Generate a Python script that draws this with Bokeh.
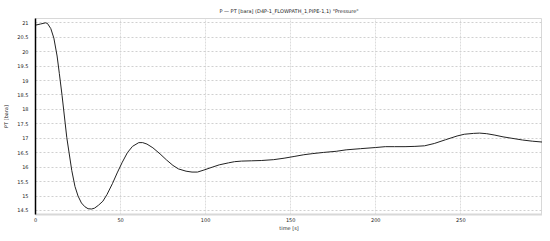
from bokeh.plotting import figure
from bokeh.models import Range1d, FixedTicker, Title
from bokeh.embed import file_html
from bokeh.resources import INLINE

title_text = 'P \u2014 PT [bara] (D4P-1_FLOWPATH_1,PIPE-1,1) "Pressure"'
x_label = "time [s]"
y_label = "PT [bara]"

time_s = [0, 3, 5.9, 7, 9, 10.8, 12.7, 14, 15.6, 18.4, 21.3, 23.2, 25, 27, 29, 30.9,
          33, 34.7, 37, 39.6, 42, 45.3, 48, 51, 54, 57, 60.7, 63, 65.5, 69, 73.2,
          77, 80.8, 84, 88.5, 92, 95.2, 99, 103.9, 108, 113.5, 117, 121.1, 127,
          132.7, 140, 146.1, 152, 157.7, 163, 169.2, 176.8, 182.6, 191, 199.9,
          205.6, 211, 217.2, 223, 228.7, 234.4, 241, 247.8, 252, 257.5, 261,
          265.2, 270, 274.8, 280, 286.3, 292, 297.8]
pressure = [20.92, 20.96, 21.0, 20.98, 20.8, 20.47, 19.85, 19.25, 18.49, 17.02, 15.89,
            15.33, 15.0, 14.76, 14.63, 14.56, 14.55, 14.58, 14.68, 14.82, 15.05,
            15.44, 15.8, 16.17, 16.5, 16.72, 16.85, 16.85, 16.8, 16.67, 16.46,
            16.25, 16.06, 15.94, 15.86, 15.83, 15.83, 15.9, 16.0, 16.08, 16.15,
            16.19, 16.21, 16.22, 16.23, 16.26, 16.31, 16.37, 16.43, 16.47, 16.51,
            16.55, 16.6, 16.64, 16.68, 16.71, 16.71, 16.71, 16.72, 16.74, 16.82,
            16.95, 17.08, 17.14, 17.17, 17.18, 17.16, 17.11, 17.05, 17.0, 16.94,
            16.9, 16.87]

x_ticks = [0, 50, 100, 150, 200, 250]
y_ticks = [14.5, 15, 15.5, 16, 16.5, 17, 17.5, 18, 18.5, 19, 19.5, 20, 20.5, 21]

p = figure(width=542, height=233, output_backend="svg", toolbar_location=None,
           x_range=Range1d(0, 298), y_range=Range1d(14.36, 21.15),
           min_border_left=23, min_border_right=0, min_border_top=0,
           min_border_bottom=0, background_fill_color="white",
           border_fill_color="white")

p.add_layout(Title(text=title_text, align="center", text_font="DejaVu Sans",
                   text_font_size="5px", text_font_style="normal",
                   text_color="#222222", standoff=10, offset=0), "above")

p.line(time_s, pressure, line_color="#222222", line_width=1.0)

p.xaxis.ticker = FixedTicker(ticks=x_ticks)
p.yaxis.ticker = FixedTicker(ticks=y_ticks)
p.xaxis.axis_label = x_label
p.yaxis.axis_label = y_label

for ax in (p.xaxis[0], p.yaxis[0]):
    ax.major_label_text_font = "DejaVu Sans"
    ax.major_label_text_font_size = "5px"
    ax.major_label_text_color = "#222222"
    ax.axis_label_text_font = "DejaVu Sans"
    ax.axis_label_text_font_size = "5px"
    ax.axis_label_text_font_style = "normal"
    ax.axis_label_text_color = "#222222"
    ax.minor_tick_line_color = None
    ax.major_tick_line_color = None
    ax.major_tick_out = 0
    ax.major_tick_in = 0
    ax.minor_tick_out = 0
    ax.minor_tick_in = 0
    ax.axis_label_standoff = 0
    ax.major_label_standoff = 3

p.yaxis.axis_line_color = "black"
p.yaxis.axis_line_width = 1.5
p.xaxis.axis_line_color = "#d8d8d8"
p.xaxis.axis_line_width = 2
p.yaxis.major_label_standoff = 7
p.yaxis.axis_label_standoff = 5

p.xgrid.grid_line_color = "#dcdcdc"
p.xgrid.grid_line_dash = "2 1"
p.ygrid.grid_line_color = "#d0d0d0"
p.ygrid.grid_line_dash = "2 2"

p.outline_line_color = "#d8d8d8"
p.outline_line_width = 1

open("out.html", "w").write(file_html(p, INLINE))
